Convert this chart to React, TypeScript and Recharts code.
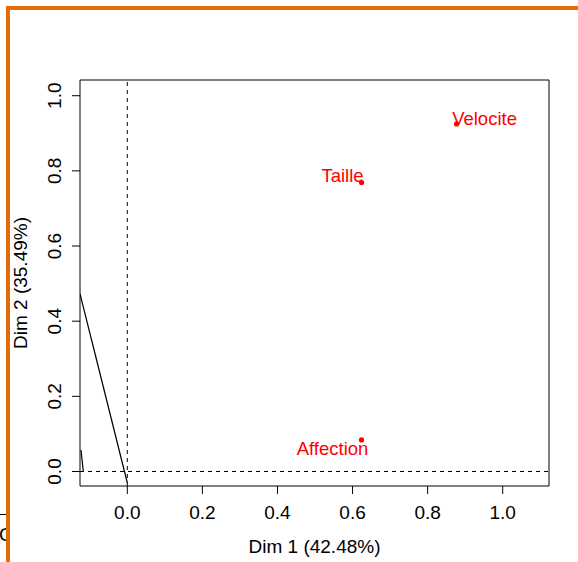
import React from 'react';
import { ScatterChart, Scatter, XAxis, YAxis, ReferenceLine, ReferenceArea } from 'recharts';

const variableNames = ['Velocite', 'Taille', 'Affection'];
const dim1Values = [0.877, 0.624, 0.624];
const dim2Values = [0.925, 0.769, 0.084];
const labelDx = [28, -19, -29];
const labelDy = [1, -1, 15];

const xTicks = [0, 0.2, 0.4, 0.6, 0.8, 1.0];
const yTicks = [0, 0.2, 0.4, 0.6, 0.8, 1.0];
const xDomain = [-0.126, 1.1233];
const yDomain = [-0.0386, 1.0418];

const segmentAx = [-0.126, 0];
const segmentAy = [0.473, -0.03];
const segmentBx = [-0.1233, -0.1172];
const segmentBy = [0.0572, 0];

const xTitle = 'Dim 1 (42.48%)';
const yTitle = 'Dim 2 (35.49%)';

const FONT = '"Liberation Sans", Arial, sans-serif';

const points = variableNames.map((name, i) => ({ name, x: dim1Values[i], y: dim2Values[i], i }));
const segA = segmentAx.map((x, i) => ({ x, y: segmentAy[i] }));
const segB = segmentBx.map((x, i) => ({ x, y: segmentBy[i] }));

const fmt = (v: number) => v.toFixed(1);

const XTick = (p: any) => (
  <text x={p.x} y={p.y + 25} textAnchor="middle" fontFamily={FONT} fontSize={19} fill="#000">
    {fmt(p.payload.value)}
  </text>
);

const YTick = (p: any) => {
  const px = p.x - 10.5;
  return (
    <text x={px} y={p.y} transform={`rotate(-90, ${px}, ${p.y})`} textAnchor="middle" fontFamily={FONT} fontSize={19} fill="#000">
      {fmt(p.payload.value)}
    </text>
  );
};

const PointShape = (p: any) => {
  const i = p.payload.i;
  return (
    <g>
      <circle cx={p.cx} cy={p.cy} r={2.6} fill="#FF0000" />
      <text x={p.cx + labelDx[i]} y={p.cy + labelDy[i]} textAnchor="middle" fontFamily={FONT} fontSize={18.5} fill="#FF0000">
        {p.payload.name}
      </text>
    </g>
  );
};

const NoShape = () => <g />;

const XTitle = (p: any) => {
  const vb = p.viewBox || { x: 80, y: 486, width: 469, height: 76 };
  return (
    <text x={vb.x + vb.width / 2} y={vb.y + 67} textAnchor="middle" fontFamily={FONT} fontSize={19} fill="#000">
      {xTitle}
    </text>
  );
};

const YTitle = (p: any) => {
  const vb = p.viewBox || { x: 20, y: 80, width: 60, height: 406 };
  const tx = vb.x + 7;
  const ty = vb.y + vb.height / 2;
  return (
    <text x={tx} y={ty} transform={`rotate(-90, ${tx}, ${ty})`} textAnchor="middle" fontFamily={FONT} fontSize={19} fill="#000">
      {yTitle}
    </text>
  );
};

export default function App() {
  return (
    <div style={{ position: 'fixed', left: 0, top: 0, width: 578, height: 562, background: '#fff', overflow: 'hidden' }}>
      <div style={{ position: 'absolute', left: 0, top: 514, width: 6, height: 1, background: '#000' }} />
      <div style={{ position: 'absolute', left: 0, top: 522, width: 6, height: 26, overflow: 'hidden' }}>
        <div style={{ position: 'absolute', left: -1, top: 0, fontFamily: FONT, fontSize: 19, lineHeight: '26px', color: '#000' }}>C</div>
      </div>
      <div style={{ position: 'absolute', left: 0, top: 0 }}>
        <ScatterChart width={578} height={562} margin={{ top: 80, right: 29, bottom: 0, left: 20 }}>
          <XAxis
            type="number"
            dataKey="x"
            domain={xDomain}
            ticks={xTicks}
            allowDataOverflow
            axisLine={false}
            tickLine={{ stroke: '#000' }}
            tickSize={8}
            tickMargin={0}
            height={76}
            tick={<XTick />}
            interval={0}
            label={<XTitle />}
          />
          <YAxis
            type="number"
            dataKey="y"
            domain={yDomain}
            ticks={yTicks}
            allowDataOverflow
            axisLine={false}
            tickLine={{ stroke: '#000' }}
            tickSize={8}
            tickMargin={0}
            width={60}
            tick={<YTick />}
            interval={0}
            label={<YTitle />}
          />
          <ReferenceLine x={0} stroke="#000" strokeWidth={1} strokeDasharray="4 4" />
          <ReferenceLine y={0} stroke="#000" strokeWidth={1} strokeDasharray="4 4" />
          <Scatter data={segA} line={{ stroke: '#000', strokeWidth: 1.2 }} shape={<NoShape />} isAnimationActive={false} />
          <Scatter data={segB} line={{ stroke: '#000', strokeWidth: 1.2 }} shape={<NoShape />} isAnimationActive={false} />
          <Scatter data={points} shape={<PointShape />} isAnimationActive={false} />
          <ReferenceArea x1={xDomain[0]} x2={xDomain[1]} y1={yDomain[0]} y2={yDomain[1]} fill="none" fillOpacity={0} stroke="#000" strokeWidth={1} ifOverflow="visible" />
        </ScatterChart>
      </div>
      <div style={{ position: 'absolute', left: 6, top: 6, width: 572, height: 4, background: '#E36C0A' }} />
      <div style={{ position: 'absolute', left: 6, top: 6, width: 4, height: 556, background: '#E36C0A' }} />
    </div>
  );
}
